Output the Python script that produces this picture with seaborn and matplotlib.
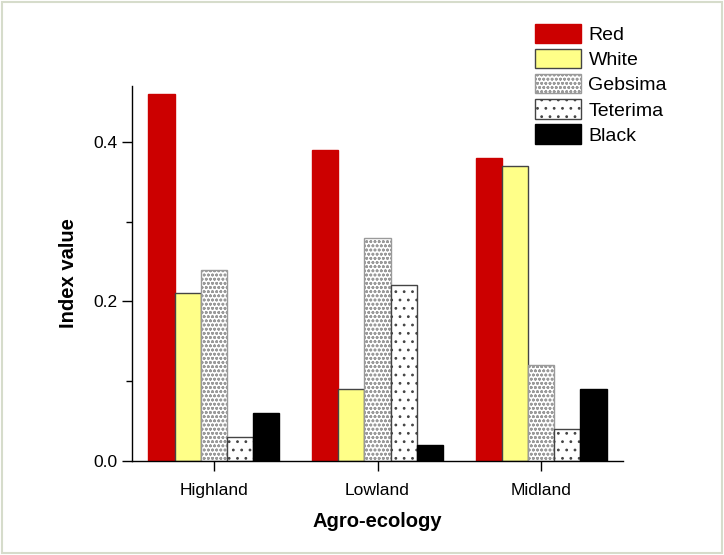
import numpy as np
import pandas as pd
import matplotlib
matplotlib.use("Agg")
import matplotlib.pyplot as plt
from matplotlib.patches import Rectangle
from matplotlib.ticker import MultipleLocator, FormatStrFormatter
import seaborn as sns

# --- data ---
zones = ["Highland", "Lowland", "Midland"]
types = ["Red", "White", "Gebsima", "Teterima", "Black"]
red_vals = [0.46, 0.39, 0.38]
white_vals = [0.21, 0.09, 0.37]
gebsima_vals = [0.24, 0.28, 0.12]
teterima_vals = [0.03, 0.22, 0.04]
black_vals = [0.06, 0.02, 0.09]

fills = ["#CC0000", "#FFFF88", "#FFFFFF", "#FFFFFF", "#000000"]
edges = ["#CC0000", "#444444", "#9a9a9a", "#444444", "#000000"]
hatches = [None, None, "oooo", "..", None]

df = pd.DataFrame({
    "Agro-ecology": zones * 5,
    "type": np.repeat(types, 3),
    "value": red_vals + white_vals + gebsima_vals + teterima_vals + black_vals,
})

sns.set_style("ticks", {"axes.labelcolor": "black", "text.color": "black",
                        "xtick.color": "black", "ytick.color": "black",
                        "axes.edgecolor": "black"})
plt.rcParams["font.family"] = ["Liberation Sans", "DejaVu Sans"]
plt.rcParams["hatch.linewidth"] = 0.8

fig = plt.figure(figsize=(7.24, 5.55), dpi=100)
ax = fig.add_axes([132 / 724, 1 - 461 / 555, 491 / 724, 375 / 555])

sns.barplot(data=df, x="Agro-ecology", y="value", hue="type", hue_order=types,
            palette=fills, width=0.8, saturation=1, legend=False, ax=ax)

for cont, ec, h in zip(ax.containers, edges, hatches):
    for bar in cont:
        bar.set_edgecolor(ec)
        bar.set_linewidth(1.0)
        if h:
            bar.set_hatch(h)

ax.set_ylim(0, 0.47)
ax.set_xlim(-0.5, 2.5)
ax.yaxis.set_major_locator(MultipleLocator(0.2))
ax.yaxis.set_minor_locator(MultipleLocator(0.1))
ax.yaxis.set_major_formatter(FormatStrFormatter("%.1f"))
ax.tick_params(axis="y", which="major", length=7, width=1, labelsize=12.5, direction="out")
ax.tick_params(axis="y", which="minor", length=4, width=1, direction="out")
ax.tick_params(axis="x", length=7, width=1, labelsize=12.5, pad=9, direction="out")
sns.despine(ax=ax)
for s in ["left", "bottom"]:
    ax.spines[s].set_linewidth(1.0)

ax.set_ylabel("Index value", fontsize=14.5, fontweight="bold", labelpad=11)
ax.set_xlabel("Agro-ecology", fontsize=14.5, fontweight="bold", labelpad=10)

fig.legend(handles=list(ax.containers), labels=types, loc="upper left",
           bbox_to_anchor=(535 / 724, 1 - 24 / 555), frameon=False,
           fontsize=14, handlelength=2.35, handleheight=1.15, labelspacing=0.25,
           handletextpad=0.4, borderpad=0, borderaxespad=0)

# thin outer frame around the picture
fig.add_artist(Rectangle((0.003, 0.004), 0.994, 0.992, transform=fig.transFigure,
                         fill=False, edgecolor="#d6dccb", linewidth=1.5))

fig.savefig("out.png", dpi=100)
plt.close(fig)
